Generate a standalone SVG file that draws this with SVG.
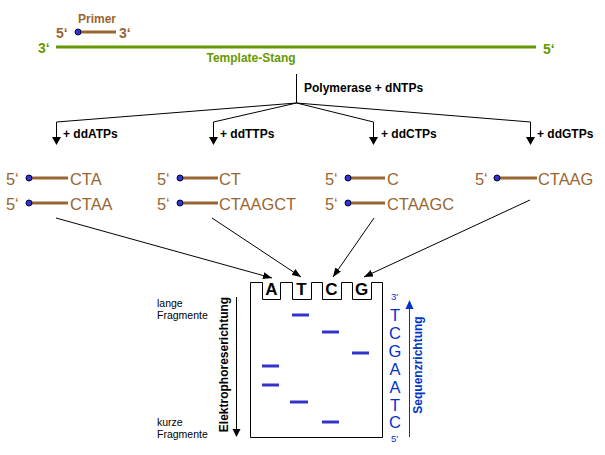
<svg xmlns="http://www.w3.org/2000/svg" width="605" height="455" viewBox="0 0 605 455">
<defs>
<style>
.br{fill:#996633;font-family:"Liberation Sans",Arial,sans-serif;font-size:16.4px}
.brb{fill:#996633;font-family:"Liberation Sans",Arial,sans-serif;font-size:14px;font-weight:bold}
.gr{fill:#669900;font-family:"Liberation Sans",Arial,sans-serif;font-weight:bold}
.lbl{fill:#000;font-family:"Liberation Sans",Arial,sans-serif;font-size:12px;font-weight:bold}
.sm{fill:#000;font-family:"Liberation Sans",Arial,sans-serif;font-size:10.5px}
.seq{fill:#0033cc;font-family:"Liberation Sans",Arial,sans-serif;font-size:16.5px;text-anchor:middle}
.well{fill:#000;font-family:"Liberation Sans",Arial,sans-serif;font-size:17px;font-weight:bold;text-anchor:middle}
.strand{stroke:#996633;stroke-width:3;fill:none}
.dot{fill:#3333cc;stroke:#000033;stroke-width:1}
.band{stroke:#3333cc;stroke-width:3}
.ln{stroke:#000;stroke-width:1;fill:none}
.end{fill:#0033cc;font-family:"Liberation Sans",Arial,sans-serif;font-size:9.5px}
</style>
<marker id="ah" markerUnits="userSpaceOnUse" markerWidth="10" markerHeight="8" refX="9" refY="3.5" orient="auto">
<path d="M0,0 L9,3.5 L0,7 z" fill="#000"/>
</marker>
</defs>

<g id="template">
<line x1="56" y1="47" x2="536" y2="47" stroke="#669900" stroke-width="3"/>
<text class="gr" x="38" y="53" font-size="14">3‘</text>
<text class="gr" x="543" y="54" font-size="14">5‘</text>
<text class="gr" x="251" y="62" font-size="12" text-anchor="middle">Template-Stang</text>
</g>

<g id="primer">
<text class="brb" x="97" y="23" text-anchor="middle" style="font-size:12px">Primer</text>
<text class="brb" x="56" y="38">5‘</text>
<line class="strand" x1="78" y1="32" x2="116" y2="32"/>
<circle class="dot" cx="78" cy="32" r="3"/>
<text class="brb" x="119" y="38">3‘</text>
</g>

<g id="connectors">
<line class="ln" x1="296.5" y1="74" x2="296.5" y2="103"/>
<polyline class="ln" points="296.5,103 56.5,122 56.5,138"/>
<polyline class="ln" points="296.5,103 213.5,122 213.5,138"/>
<polyline class="ln" points="296.5,103 373.5,122 373.5,138"/>
<polyline class="ln" points="296.5,103 530.5,122 530.5,138"/>
<path d="M52,137 L61,137 L56.5,145 z" fill="#000"/>
<path d="M209,137 L218,137 L213.5,145 z" fill="#000"/>
<path d="M369,137 L378,137 L373.5,145 z" fill="#000"/>
<path d="M526,137 L535,137 L530.5,145 z" fill="#000"/>
<line class="ln" x1="56" y1="218" x2="272" y2="278" marker-end="url(#ah)"/>
<line class="ln" x1="212" y1="218" x2="301" y2="277" marker-end="url(#ah)"/>
<line class="ln" x1="374" y1="218" x2="333" y2="277" marker-end="url(#ah)"/>
<line class="ln" x1="530" y1="200" x2="364" y2="277" marker-end="url(#ah)"/>
</g>

<g id="polymerase">
<text class="lbl" x="304" y="92">Polymerase + dNTPs</text>
</g>
<g id="label-ddATP"><text class="lbl" x="63" y="138">+ ddATPs</text></g>
<g id="label-ddTTP"><text class="lbl" x="220" y="138">+ ddTTPs</text></g>
<g id="label-ddCTP"><text class="lbl" x="381" y="138">+ ddCTPs</text></g>
<g id="label-ddGTP"><text class="lbl" x="537" y="138">+ ddGTPs</text></g>

<g id="fragments-A">
<text class="br" x="6" y="185">5‘</text>
<line class="strand" x1="29" y1="178" x2="68" y2="178"/>
<circle class="dot" cx="29" cy="178" r="3"/>
<text class="br" x="70" y="185">CTA</text>
<text class="br" x="6" y="210">5‘</text>
<line class="strand" x1="29" y1="203" x2="68" y2="203"/>
<circle class="dot" cx="29" cy="203" r="3"/>
<text class="br" x="70" y="210">CTAA</text>
</g>

<g id="fragments-T">
<text class="br" x="157" y="185">5‘</text>
<line class="strand" x1="180" y1="178" x2="218" y2="178"/>
<circle class="dot" cx="180" cy="178" r="3"/>
<text class="br" x="219" y="185">CT</text>
<text class="br" x="157" y="210">5‘</text>
<line class="strand" x1="180" y1="203" x2="218" y2="203"/>
<circle class="dot" cx="180" cy="203" r="3"/>
<text class="br" x="219" y="210">CTAAGCT</text>
</g>

<g id="fragments-C">
<text class="br" x="325" y="185">5‘</text>
<line class="strand" x1="348" y1="178" x2="385" y2="178"/>
<circle class="dot" cx="348" cy="178" r="3"/>
<text class="br" x="387" y="185">C</text>
<text class="br" x="325" y="210">5‘</text>
<line class="strand" x1="348" y1="203" x2="385" y2="203"/>
<circle class="dot" cx="348" cy="203" r="3"/>
<text class="br" x="387" y="210">CTAAGC</text>
</g>

<g id="fragments-G">
<text class="br" x="475" y="185">5‘</text>
<line class="strand" x1="497" y1="178" x2="537" y2="178"/>
<circle class="dot" cx="497" cy="178" r="3"/>
<text class="br" x="538" y="185">CTAAG</text>
</g>

<g id="gel">
<path class="ln" d="M250.5,282.5 H262.5 V299.5 H280.5 V282.5 H292.5 V299.5 H311.5 V282.5 H322.5 V299.5 H341.5 V282.5 H352.5 V299.5 H371.5 V282.5 H382.5 V437.5 H250.5 Z"/>
<text class="well" x="271.5" y="295">A</text>
<text class="well" x="301.5" y="295">T</text>
<text class="well" x="331.5" y="295">C</text>
<text class="well" x="361.5" y="295">G</text>
<line class="band" x1="292" y1="315" x2="309" y2="315"/>
<line class="band" x1="322" y1="332" x2="339" y2="332"/>
<line class="band" x1="352" y1="353" x2="369" y2="353"/>
<line class="band" x1="262" y1="366" x2="279" y2="366"/>
<line class="band" x1="262" y1="385" x2="279" y2="385"/>
<line class="band" x1="290" y1="402" x2="308" y2="402"/>
<line class="band" x1="322" y1="422" x2="339" y2="422"/>
</g>

<g id="electrophoresis">
<text class="sm" x="157" y="307">lange</text>
<text class="sm" x="157" y="319">Fragmente</text>
<text class="sm" x="157" y="426">kurze</text>
<text class="sm" x="157" y="438">Fragmente</text>
<line class="ln" x1="236.5" y1="297" x2="236.5" y2="430"/>
<path d="M232.5,429 L240.5,429 L236.5,437 z" fill="#000"/>
<text class="lbl" transform="translate(228,364.5) rotate(-90)" text-anchor="middle">Elektrophoreserichtung</text>
</g>

<g id="sequence">
<text class="end" x="391" y="300">3'</text>
<text class="seq" x="395" y="321">T</text>
<text class="seq" x="395" y="339">C</text>
<text class="seq" x="395" y="357">G</text>
<text class="seq" x="395" y="375">A</text>
<text class="seq" x="395" y="393">A</text>
<text class="seq" x="395" y="411">T</text>
<text class="seq" x="395" y="428">C</text>
<text class="end" x="391" y="442">5'</text>
<line x1="409.5" y1="437" x2="409.5" y2="308" stroke="#0033cc" stroke-width="1"/>
<path d="M405.5,309 L413.5,309 L409.5,300 z" fill="#0033cc"/>
<text transform="translate(422,365) rotate(-90)" text-anchor="middle" fill="#0033cc" font-family="Liberation Sans, Arial, sans-serif" font-size="12" font-weight="bold">Sequenzrichtung</text>
</g>
</svg>
